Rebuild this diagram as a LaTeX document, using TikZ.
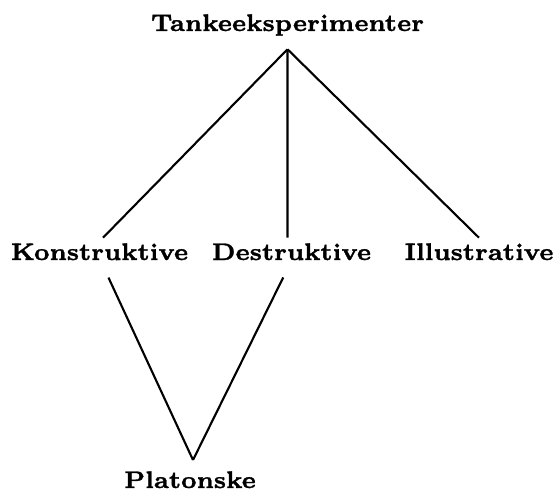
\documentclass[tikz,border=0pt]{standalone}
\usepackage{graphicx}
\usepackage{fontspec}
\newfontfamily\heavyfont{lmroman7-bold.otf}[FakeBold=1.2]
\usetikzlibrary{positioning}
\newcommand{\bigword}[1]{\scalebox{1.95}{\fontsize{7}{8}\selectfont\heavyfont #1}}
\tikzset{
    line cap=round,
    line join=round,
    concept/.style={
        anchor=base,
        inner sep=3pt,
        text=black
    },
    branch/.style={
        draw=black,
        line width=1.2pt
    },
    lower/.style={
        branch,
        shorten <=0.26cm
    }
}
\begin{document}
\begin{tikzpicture}[x=0.02cm, y=-0.02cm]

\useasboundingbox (0,0) rectangle (557,496);

% --- Nodes ---
\node[concept] (tanke) at (287.5,31) {\bigword{Tankeeksperimenter}};
\node[concept] (konstr) at (99.5,260) {\bigword{Konstruktive}};
\node[concept] (destr) at (291.5,260) {\bigword{Destruktive}};
\node[concept] (illus) at (479,260) {\bigword{Illustrative}};
\node[concept] (platon) at (190,488) {\bigword{Platonske}};

\coordinate (apex) at ([yshift=-0.16cm]tanke.south);
\coordinate (foot) at (193,460);

% --- Connectors ---
\draw[branch] (apex) -- ([xshift=0.07cm]konstr.north);
\draw[branch] (apex) -- ([xshift=-0.08cm]destr.north);
\draw[branch] (apex) -- (illus.north);

\draw[lower] ([xshift=0.07cm]konstr.south) -- (foot);
\draw[lower] ([xshift=-0.05cm]destr.south) -- (foot);

\end{tikzpicture}
\end{document}
